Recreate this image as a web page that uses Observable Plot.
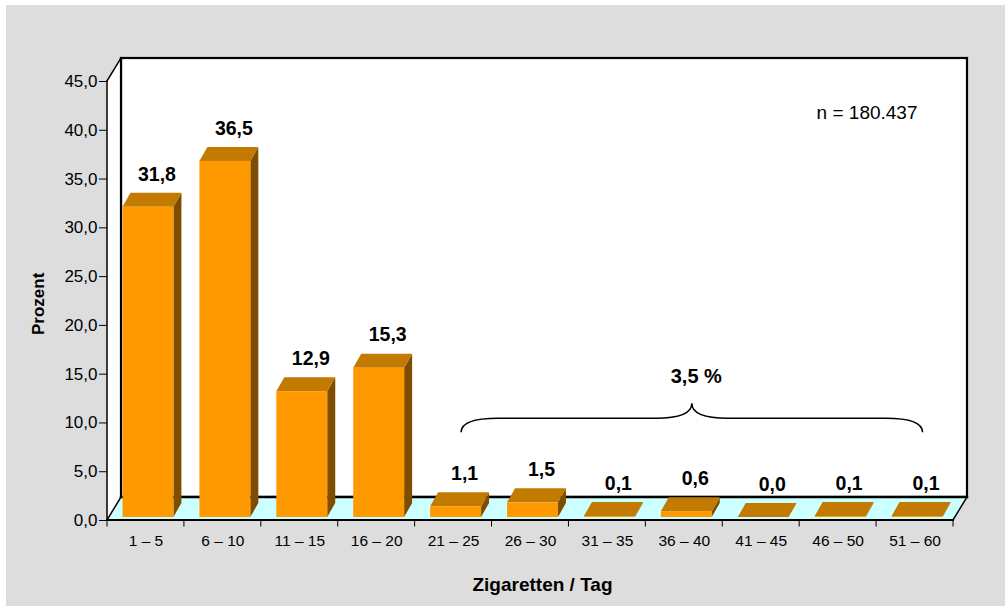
<!DOCTYPE html>
<html>
<head>
<meta charset="utf-8">
<script src="https://cdn.jsdelivr.net/npm/d3@7"></script>
<script src="https://cdn.jsdelivr.net/npm/@observablehq/plot@0.6"></script>
<style>
  html, body { margin: 0; background: #ffffff; }
  #chart { padding: 5px 0 0 6px; }
</style>
</head>
<body>
<div id="chart"></div>
<script>
// Cigarettes smoked per day, share of smokers in percent
const categories = ["1 – 5", "6 – 10", "11 – 15", "16 – 20", "21 – 25", "26 – 30",
                    "31 – 35", "36 – 40", "41 – 45", "46 – 50", "51 – 60"];
const percents = [31.8, 36.5, 12.9, 15.3, 1.1, 1.5, 0.1, 0.6, 0.0, 0.1, 0.1];
const yTicks = [0, 5, 10, 15, 20, 25, 30, 35, 40, 45];
const sampleSize = 180437;
const braceFrom = "21 – 25";
const braceTo = "51 – 60";

// German number formatting: decimal comma, dot as thousands separator
const de = d3.formatLocale({decimal: ",", thousands: ".", grouping: [3], currency: ["", " €"]});
const fmt1 = de.format(".1f");
const fmtInt = de.format(",d");

const rows = categories.map((c, i) => ({category: c, value: percents[i]}));
const heavyShare = d3.sum(percents.slice(categories.indexOf(braceFrom), categories.indexOf(braceTo) + 1));

// pseudo-3D geometry (pixels)
const wallDepth = [14, -23];   // depth of the box: floor and back wall
const barFront = [2.5, -3];    // bars stand slightly behind the front edge
const barDepth = [8, -14];     // depth of each bar
const barInset = 13;
const colors = {front: "#ff9900", top: "#c27a00", side: "#7f4d00", floor: "#ccffff", panel: "#dddddd"};
const yMax = yTicks[yTicks.length - 1];
const braceLevel = 9;

function line(g, x1, y1, x2, y2, w) {
  g.append("line").attr("x1", x1).attr("y1", y1).attr("x2", x2).attr("y2", y2)
    .attr("stroke", "black").attr("stroke-width", w).attr("stroke-linecap", "square");
}

// back wall, left wall and floor of the chart box, with the front axis lines
function box(index, {x, y}) {
  const [x0, x1] = x.range();
  const y0 = y(0), yt = y(yMax);
  const [dx, dy] = wallDepth;
  const g = d3.create("svg:g");
  g.append("rect").attr("x", x0 + dx).attr("y", yt + dy)
    .attr("width", x1 - x0).attr("height", y0 - yt)
    .attr("fill", "white").attr("stroke", "black").attr("stroke-width", 2.2);
  g.append("path").attr("d", `M${x0},${y0}V${yt}L${x0 + dx},${yt + dy}V${y0 + dy}Z`).attr("fill", "white");
  g.append("path").attr("d", `M${x0},${y0}H${x1}L${x1 + dx},${y0 + dy}H${x0 + dx}Z`).attr("fill", colors.floor);
  line(g, x0 + dx, yt + dy, x0 + dx, y0 + dy, 2.2);
  line(g, x0 + dx, y0 + dy, x1 + dx, y0 + dy, 2.4);
  line(g, x0, yt, x0 + dx, yt + dy, 1.5);
  line(g, x0, y0, x0 + dx, y0 + dy, 1.5);
  line(g, x1, y0, x1 + dx, y0 + dy, 1.5);
  line(g, x0, yt, x0, y0, 1.5);
  line(g, x0, y0, x1, y0, 2);
  // category ticks sit on the band boundaries
  const bw = x.bandwidth();
  categories.forEach(c => line(g, x(c), y0, x(c), y0 + 6, 1));
  const last = categories[categories.length - 1];
  line(g, x(last) + bw, y0, x(last) + bw, y0 + 6, 1);
  return g.node();
}

// top and right side faces of the bars
function barFaces(index, {x, y}) {
  const bw = x.bandwidth();
  const [ddx, ddy] = barDepth;
  const g = d3.create("svg:g");
  rows.forEach(d => {
    const xl = x(d.category) + barInset + barFront[0];
    const xr = x(d.category) + bw - barInset + barFront[0];
    const yb = y(0) + barFront[1], yt = y(d.value) + barFront[1];
    g.append("path").attr("d", `M${xr},${yt}L${xr + ddx},${yt + ddy}V${yb + ddy}L${xr},${yb}Z`).attr("fill", colors.side);
    g.append("path").attr("d", `M${xl},${yt}H${xr}L${xr + ddx},${yt + ddy}H${xl + ddx}Z`).attr("fill", colors.top);
  });
  return g.node();
}

// curly brace grouping the heavy-smoker categories
function brace(index, {x, y}) {
  const bw = x.bandwidth();
  const a = x(braceFrom) + bw / 2 + 8, b = x(braceTo) + bw / 2 + 8, m = (a + b) / 2;
  const yb = y(braceLevel), h = yb - 14, p = yb - 29;
  const d = `M${a},${yb}C${a},${yb - 10} ${a + 15},${h} ${a + 37},${h}` +
            `L${m - 36},${h}C${m - 14},${h} ${m},${h - 4} ${m},${p}` +
            `C${m},${h - 4} ${m + 14},${h} ${m + 36},${h}` +
            `L${b - 37},${h}C${b - 15},${h} ${b},${yb - 10} ${b},${yb}`;
  const g = d3.create("svg:g");
  g.append("path").attr("d", d).attr("fill", "none").attr("stroke", "black").attr("stroke-width", 1.5);
  return g.node();
}

const midCategory = categories[Math.round((categories.indexOf(braceFrom) + categories.indexOf(braceTo)) / 2)];

const chart = Plot.plot({
  width: 999,
  height: 601,
  marginLeft: 101,
  marginRight: 52,
  marginTop: 76,
  marginBottom: 86,
  style: {background: colors.panel, fontFamily: "Arial, 'Liberation Sans', sans-serif", color: "black"},
  x: {type: "band", domain: categories, padding: 0, round: false},
  y: {domain: [0, yMax]},
  marks: [
    box,
    barFaces,
    Plot.barY(rows, {x: "category", y: "value", fill: colors.front,
      insetLeft: barInset, insetRight: barInset, dx: barFront[0], dy: barFront[1]}),
    Plot.text(rows, {x: "category", y: "value", text: d => fmt1(d.value),
      dx: 11, dy: -36, fontSize: 19.5, fontWeight: "bold", fill: "black"}),
    brace,
    Plot.text([fmt1(heavyShare) + " %"], {x: () => midCategory, y: () => braceLevel, text: d => d,
      dx: 12, dy: -56, fontSize: 20, fontWeight: "bold", fill: "black"}),
    Plot.text([`n = ${fmtInt(sampleSize)}`], {text: d => d, frameAnchor: "top-right", textAnchor: "end",
      dx: -36, dy: 24, fontSize: 19, fill: "black"}),
    Plot.axisY({ticks: yTicks, tickFormat: fmt1, tickSize: 8, tickPadding: 2, fontSize: 17, label: null}),
    Plot.axisX({tickSize: 0, tickPadding: 14, fontSize: 15.5, label: null}),
    Plot.text(["Zigaretten / Tag"], {text: d => d, frameAnchor: "bottom", dx: 12, dy: 70,
      fontSize: 19, fontWeight: "bold", fill: "black"}),
    Plot.text(["Prozent"], {text: d => d, frameAnchor: "left", rotate: -90, dx: -68.5, dy: 34,
      fontSize: 17, fontWeight: "bold", fill: "black"})
  ]
});

document.getElementById("chart").append(chart);
</script>
</body>
</html>
